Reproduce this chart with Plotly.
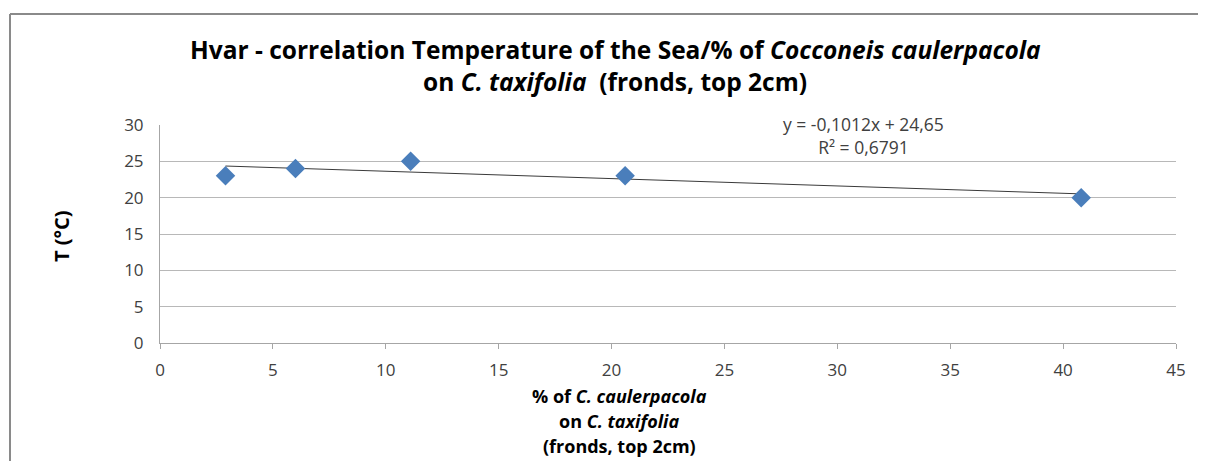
import numpy as np
import plotly.graph_objects as go

# ---- data ----
pct_caulerpacola = [2.9, 6.0, 11.1, 20.6, 40.8]
temperature = [23, 24, 25, 23, 20]
x_ticks = [0, 5, 10, 15, 20, 25, 30, 35, 40, 45]
y_ticks = [0, 5, 10, 15, 20, 25, 30]
eq_text = "y = -0,1012x + 24,65"
r2_text = "R² = 0,6791"

FONT = "Open Sans"
OFF = 8  # page body margin
W, H = 1206, 461
# plot area in page pixels: x 160..1176, y 125..343
PL, PR, PT, PB = 160, 1176, 125, 343
L, T = PL - OFF, PT - OFF
R = W - (PR - OFF)
B = H - (PB - OFF)
pw, ph = PR - PL, PB - PT

def px_x(p):
    return (p - PL) / pw

def px_y(p):
    return (PB - p) / ph

slope, intercept = np.polyfit(pct_caulerpacola, temperature, 1)
xt = np.array([min(pct_caulerpacola), max(pct_caulerpacola)])
yt = slope * xt + intercept

fig = go.Figure()
fig.add_trace(go.Scatter(x=xt, y=yt, mode="lines",
                         line=dict(color="#3a3a3a", width=1), showlegend=False))
fig.add_trace(go.Scatter(x=pct_caulerpacola, y=temperature, mode="markers",
                         marker=dict(symbol="diamond", size=15, color="#4a7ebb"),
                         showlegend=False))

fig.update_layout(
    width=W, height=H,
    margin=dict(l=L, r=R, t=T, b=B),
    paper_bgcolor="white", plot_bgcolor="white",
    font=dict(family=FONT, size=16, color="#404040"),
    xaxis=dict(range=[0, 45], tickvals=x_ticks, showgrid=False, zeroline=False,
               showline=True, linecolor="#a6a6a6", linewidth=1,
               ticks="outside", ticklen=5, tickcolor="#a6a6a6",
               ticklabelstandoff=7, tickfont=dict(size=17, color="#404040")),
    yaxis=dict(range=[0, 30], tickvals=y_ticks, showgrid=True, gridcolor="#b8b8b8",
               gridwidth=1, zeroline=False, showline=True, linecolor="#a6a6a6",
               ticks="", ticklabelstandoff=12, tickfont=dict(size=17, color="#404040")),
)

shapes = [
    dict(type="line", xref="paper", yref="paper", x0=px_x(10), x1=px_x(1214),
         y0=px_y(14), y1=px_y(14), line=dict(color="#8a8a8a", width=2)),
    dict(type="line", xref="paper", yref="paper", x0=px_x(10), x1=px_x(10),
         y0=px_y(14), y1=px_y(470), line=dict(color="#8a8a8a", width=2)),
]
fig.update_layout(shapes=shapes)

ann = []
def add(text, xp, yp, size, color="black", angle=0):
    ann.append(dict(text=text, xref="paper", yref="paper", x=px_x(xp), y=px_y(yp),
                    xanchor="center", yanchor="middle", showarrow=False, textangle=angle,
                    font=dict(family=FONT, size=size, color=color)))

add("<b>Hvar - correlation Temperature of the Sea/% of <i>Cocconeis caulerpacola</i></b>", 615, 50, 24.5)
add("<b>on <i>C. taxifolia</i>  (fronds, top 2cm)</b>", 615, 81, 24.5)
add("<b>T (°C)</b>", 61, 236, 20, angle=-90)
add("<b>% of <i>C. caulerpacola</i></b>", 619, 396, 18)
add("<b>on <i>C. taxifolia</i></b>", 619, 421, 18)
add("<b>(fronds, top 2cm)</b>", 619, 446, 18)
add(eq_text + "<br>" + r2_text, 863, 135.5, 17.5, color="#404040")
fig.update_layout(annotations=ann)

fig.write_html("out.html")
